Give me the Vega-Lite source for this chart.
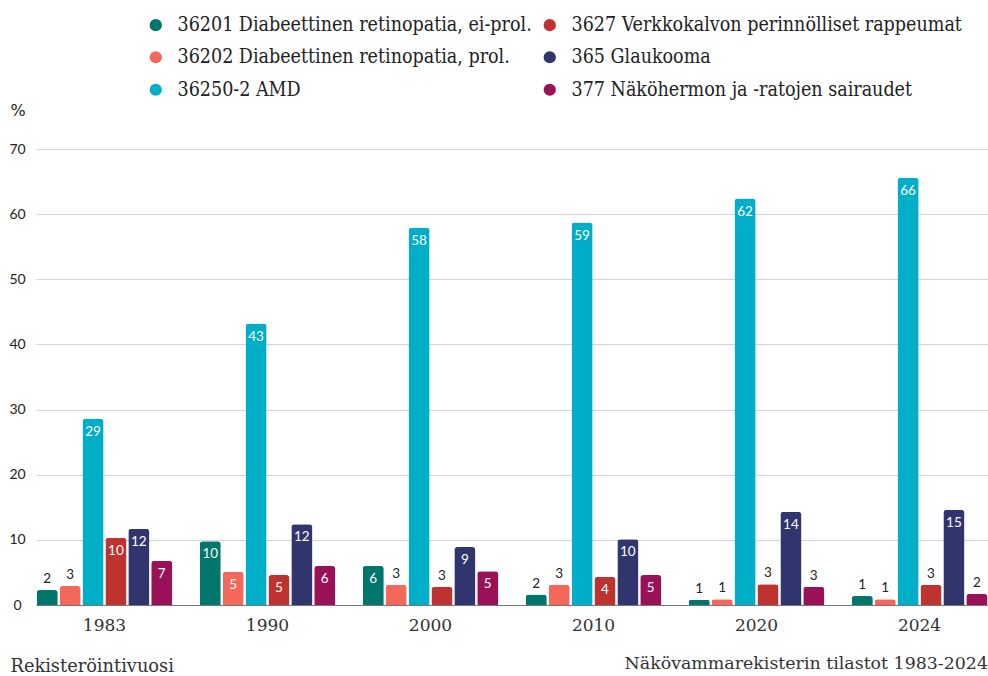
{
  "$schema": "https://vega.github.io/schema/vega-lite/v6.json",
  "width": 952,
  "height": 456,
  "autosize": {"type": "none"},
  "padding": {"left": 36, "top": 149, "right": 0, "bottom": 71},
  "background": "white",
  "title": {
    "text": "Näkövammarekisterin tilastot 1983-2024",
    "orient": "bottom",
    "anchor": "end",
    "offset": -20,
    "font": "DejaVu Serif",
    "fontSize": 17.4,
    "fontWeight": "normal",
    "color": "#333333"
  },
  "config": {
    "view": {"stroke": null},
    "legend": {"padding": 0}
  },
  "data": {
    "values": [
      {"year": "1983", "cat": "36201 Diabeettinen retinopatia, ei-prol.", "value": 2.3},
      {"year": "1983", "cat": "36202 Diabeettinen retinopatia, prol.", "value": 2.9},
      {"year": "1983", "cat": "36250-2 AMD", "value": 28.6},
      {"year": "1983", "cat": "3627 Verkkokalvon perinnölliset rappeumat", "value": 10.3},
      {"year": "1983", "cat": "365 Glaukooma", "value": 11.7},
      {"year": "1983", "cat": "377 Näköhermon ja -ratojen sairaudet", "value": 6.8},
      {"year": "1990", "cat": "36201 Diabeettinen retinopatia, ei-prol.", "value": 9.8},
      {"year": "1990", "cat": "36202 Diabeettinen retinopatia, prol.", "value": 5.1},
      {"year": "1990", "cat": "36250-2 AMD", "value": 43.2},
      {"year": "1990", "cat": "3627 Verkkokalvon perinnölliset rappeumat", "value": 4.6},
      {"year": "1990", "cat": "365 Glaukooma", "value": 12.4},
      {"year": "1990", "cat": "377 Näköhermon ja -ratojen sairaudet", "value": 6.0},
      {"year": "2000", "cat": "36201 Diabeettinen retinopatia, ei-prol.", "value": 6.0},
      {"year": "2000", "cat": "36202 Diabeettinen retinopatia, prol.", "value": 3.1},
      {"year": "2000", "cat": "36250-2 AMD", "value": 57.9},
      {"year": "2000", "cat": "3627 Verkkokalvon perinnölliset rappeumat", "value": 2.8},
      {"year": "2000", "cat": "365 Glaukooma", "value": 8.9},
      {"year": "2000", "cat": "377 Näköhermon ja -ratojen sairaudet", "value": 5.2},
      {"year": "2010", "cat": "36201 Diabeettinen retinopatia, ei-prol.", "value": 1.6},
      {"year": "2010", "cat": "36202 Diabeettinen retinopatia, prol.", "value": 3.1},
      {"year": "2010", "cat": "36250-2 AMD", "value": 58.7},
      {"year": "2010", "cat": "3627 Verkkokalvon perinnölliset rappeumat", "value": 4.3},
      {"year": "2010", "cat": "365 Glaukooma", "value": 10.1},
      {"year": "2010", "cat": "377 Näköhermon ja -ratojen sairaudet", "value": 4.6},
      {"year": "2020", "cat": "36201 Diabeettinen retinopatia, ei-prol.", "value": 0.8},
      {"year": "2020", "cat": "36202 Diabeettinen retinopatia, prol.", "value": 0.9},
      {"year": "2020", "cat": "36250-2 AMD", "value": 62.4},
      {"year": "2020", "cat": "3627 Verkkokalvon perinnölliset rappeumat", "value": 3.2},
      {"year": "2020", "cat": "365 Glaukooma", "value": 14.3},
      {"year": "2020", "cat": "377 Näköhermon ja -ratojen sairaudet", "value": 2.8},
      {"year": "2024", "cat": "36201 Diabeettinen retinopatia, ei-prol.", "value": 1.4},
      {"year": "2024", "cat": "36202 Diabeettinen retinopatia, prol.", "value": 0.9},
      {"year": "2024", "cat": "36250-2 AMD", "value": 65.6},
      {"year": "2024", "cat": "3627 Verkkokalvon perinnölliset rappeumat", "value": 3.1},
      {"year": "2024", "cat": "365 Glaukooma", "value": 14.6},
      {"year": "2024", "cat": "377 Näköhermon ja -ratojen sairaudet", "value": 1.7}
    ]
  },
  "encoding": {
    "x": {
      "field": "year",
      "type": "nominal",
      "scale": {"paddingInner": 0.168, "paddingOuter": 0.004},
      "axis": {
        "labelAngle": 0,
        "ticks": false,
        "domainColor": "#777777",
        "labelFont": "DejaVu Serif",
        "labelFontSize": 17,
        "labelColor": "#333333",
        "labelPadding": 12,
        "title": "Rekisteröintivuosi",
        "titleX": -26,
        "titleY": 66,
        "titleAlign": "left",
        "titleBaseline": "alphabetic",
        "titleFont": "DejaVu Serif",
        "titleFontSize": 17.8,
        "titleFontWeight": "normal",
        "titleColor": "#333333"
      }
    },
    "xOffset": {
      "field": "cat",
      "sort": [
        "36201 Diabeettinen retinopatia, ei-prol.",
        "36202 Diabeettinen retinopatia, prol.",
        "36250-2 AMD",
        "3627 Verkkokalvon perinnölliset rappeumat",
        "365 Glaukooma",
        "377 Näköhermon ja -ratojen sairaudet"
      ],
      "scale": {"paddingInner": 0.08}
    },
    "y": {
      "field": "value",
      "type": "quantitative",
      "scale": {"domain": [0, 70], "nice": false},
      "axis": {
        "values": [0, 10, 20, 30, 40, 50, 60, 70],
        "domain": false,
        "ticks": false,
        "gridColor": "#d4d4d4",
        "labelFont": "Lato",
        "labelFontSize": 14,
        "labelColor": "#222222",
        "labelAlign": "center",
        "labelPadding": 19,
        "title": "%",
        "titleAngle": 0,
        "titleX": -26,
        "titleY": -34,
        "titleAlign": "left",
        "titleBaseline": "alphabetic",
        "titleFont": "DejaVu Sans",
        "titleFontSize": 16,
        "titleFontWeight": "normal",
        "titleColor": "#222222"
      }
    }
  },
  "layer": [
    {
      "mark": {"type": "bar", "cornerRadiusTopLeft": 3, "cornerRadiusTopRight": 3},
      "encoding": {
        "color": {
          "field": "cat",
          "type": "nominal",
          "scale": {
            "domain": [
              "36201 Diabeettinen retinopatia, ei-prol.",
              "36202 Diabeettinen retinopatia, prol.",
              "36250-2 AMD",
              "3627 Verkkokalvon perinnölliset rappeumat",
              "365 Glaukooma",
              "377 Näköhermon ja -ratojen sairaudet"
            ],
            "range": ["#00766C", "#F4675B", "#00AEC7", "#BE3330", "#31356E", "#9B1157"]
          },
          "legend": {
            "title": null,
            "orient": "none",
            "legendX": 110,
            "legendY": -134,
            "columns": 2,
            "columnPadding": 8,
            "rowPadding": 11.5,
            "symbolType": "circle",
            "symbolSize": 150,
            "labelFont": "DejaVu Serif Condensed",
            "labelFontSize": 19.5,
            "labelColor": "#222222",
            "labelOffset": 12,
            "labelLimit": 500
          }
        }
      }
    },
    {
      "transform": [{"filter": "datum.value >= 3.5"}],
      "mark": {"type": "text", "baseline": "top", "dy": 6, "color": "white", "font": "Lato", "fontSize": 13.5},
      "encoding": {"text": {"field": "value", "type": "quantitative", "format": ".0f"}}
    },
    {
      "transform": [{"filter": "datum.value < 3.5"}],
      "mark": {"type": "text", "baseline": "bottom", "dy": -4, "color": "#222222", "font": "Lato", "fontSize": 13.5},
      "encoding": {"text": {"field": "value", "type": "quantitative", "format": ".0f"}}
    }
  ]
}
